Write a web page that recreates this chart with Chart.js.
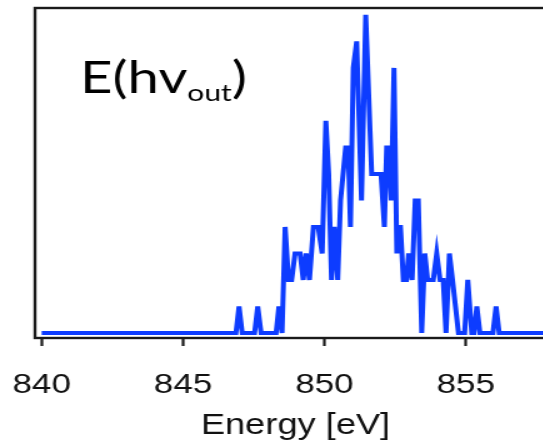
<!DOCTYPE html>
<html>
<head>
<meta charset="utf-8">
<script src="https://cdn.jsdelivr.net/npm/chart.js@4/dist/chart.umd.min.js"></script>
<style>
  html, body { margin: 0; padding: 0; background: #fff; overflow: hidden; }
  #wrap { width: 464px; height: 446px; transform: scaleX(1.25); transform-origin: 0 0; }
</style>
</head>
<body>
<div id="wrap">
  <canvas id="spectrumChart" width="464" height="446"></canvas>
</div>
<script>
// energies (eV) where the trace changes
const energies = [
  840.00, 846.87, 846.98, 847.09, 847.53, 847.64, 847.76, 848.29, 848.39, 848.50,
  848.61, 848.73, 848.84, 848.96, 849.14, 849.25, 849.35, 849.47, 849.61, 849.78,
  849.92, 850.05, 850.15, 850.25, 850.35, 850.47, 850.57, 850.75, 850.84, 850.92,
  851.02, 851.14, 851.31, 851.46, 851.67, 852.00, 852.12, 852.20, 852.27, 852.36,
  852.46, 852.56, 852.62, 852.69, 852.79, 852.90, 852.98, 853.10, 853.21, 853.32,
  853.44, 853.55, 853.65, 853.85, 853.97, 854.09, 854.20, 854.30, 854.42, 854.53,
  854.74, 854.96, 855.07, 855.21, 855.29, 855.39, 855.50, 855.96, 856.07, 856.18,
  858.20
];

// counts at those energies
const counts = [
  0, 0, 1, 0, 0, 1, 0, 0, 1, 0,
  4, 2, 2, 3, 3, 2, 3, 2, 4, 4,
  3, 8, 6, 2, 4, 2, 5, 7, 7, 4,
  10, 11, 5, 12, 6, 6, 4, 7, 7, 5,
  10, 3, 4, 4, 2, 2, 3, 2, 5, 5,
  0, 3, 2, 2, 3, 2, 2, 0, 3, 2,
  0, 0, 2, 0, 0, 1, 0, 0, 1, 0,
  0
];

const tickValues = [840, 845, 850, 855];

const points = energies.map((e, i) => ({ x: e, y: counts[i] }));

// box round the plot and the E(hv_out) label
const framePlugin = {
  id: "frame",
  afterDatasetsDraw(chart) {
    const { ctx, chartArea } = chart;
    ctx.save();
    ctx.strokeStyle = "#1a1a1a";
    ctx.lineWidth = 2.4;
    ctx.strokeRect(chartArea.left, chartArea.top, chartArea.right - chartArea.left, chartArea.bottom - chartArea.top);

    ctx.fillStyle = "#000";
    ctx.textBaseline = "alphabetic";
    let x = 64;
    const y = 93;
    ctx.font = "45px Lato";
    ctx.fillText("E(hv", x, y);
    x += ctx.measureText("E(hv").width;
    ctx.font = "24px Lato";
    ctx.fillText("out", x, y + 8);
    x += ctx.measureText("out").width;
    ctx.font = "45px Lato";
    ctx.fillText(")", x, y);
    ctx.restore();
  }
};

const chartCanvas = document.getElementById("spectrumChart");
const ctx = chartCanvas.getContext("2d");

new Chart(ctx, {
  type: "line",
  data: {
    datasets: [{
      data: points,
      borderColor: "#0d3cff",
      borderWidth: 4,
      pointRadius: 0,
      tension: 0,
      fill: false
    }]
  },
  options: {
    responsive: false,
    animation: false,
    layout: { padding: { left: 28, right: 19.2, top: 8, bottom: 0 } },
    plugins: {
      legend: { display: false },
      tooltip: { enabled: false }
    },
    scales: {
      x: {
        type: "linear",
        min: 839.763,
        max: 858.19,
        afterBuildTicks: (axis) => { axis.ticks = tickValues.map(v => ({ value: v })); },
        afterFit: (axis) => {
          axis.height = 108;
          axis.paddingLeft = 0;
          axis.paddingRight = 0;
        },
        grid: {
          drawOnChartArea: false,
          drawTicks: true,
          tickLength: 8,
          tickWidth: 2.2,
          tickColor: "#1a1a1a"
        },
        border: { display: false },
        ticks: {
          padding: 22,
          color: "#111",
          maxRotation: 0,
          autoSkip: false,
          font: { family: "'Liberation Sans', Arial, sans-serif", size: 28, lineHeight: 1.2 }
        },
        title: {
          display: true,
          text: "Energy [eV]",
          color: "#111",
          padding: { top: 0, bottom: 3 },
          font: { family: "'Liberation Sans', Arial, sans-serif", size: 29, lineHeight: 1.2 }
        }
      },
      y: {
        display: false,
        min: -0.19,
        max: 12.26
      }
    }
  },
  plugins: [framePlugin]
});
</script>
</body>
</html>
